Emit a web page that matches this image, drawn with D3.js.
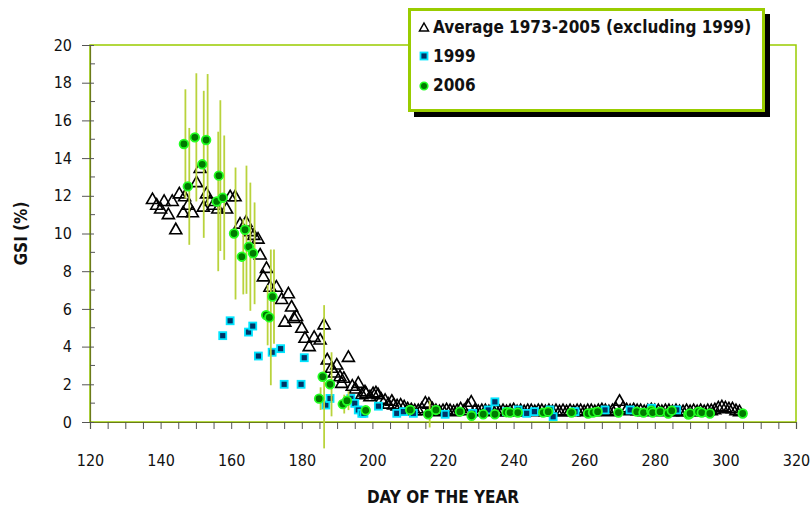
<!DOCTYPE html>
<html>
<head>
<meta charset="utf-8">
<script src="https://cdn.jsdelivr.net/npm/d3@7"></script>
<style>
  html, body { margin: 0; padding: 0; background: #fff; }
  svg { display: block; }
  text { font-family: "Liberation Sans Narrow", "Arial Narrow", "DejaVu Sans Condensed", "Liberation Sans", sans-serif; fill: #111; }
</style>
</head>
<body>
<svg id="chart" width="811" height="513"></svg>
<script>
// Average GSI 1973-2005 (excluding 1999), by day of year
const avgDays = [137.7, 138.9, 140, 141, 142.2, 143.3, 144.3, 145.3, 146.4, 146.8, 147.8, 149, 150.2, 151.2, 152.1, 153, 154, 154.9,
  156.2, 158.7, 159.7, 161.1, 162.5, 164.2, 165.3, 166.4, 167.6, 168.2, 169.1, 170, 171, 172.8, 174.3, 175.2, 176.2, 177.1,
  177.8, 178.5, 180, 180.9, 182.1, 183.5, 185.2, 186.3, 187.2, 188.4, 189.2, 189.9, 190.8, 191.3, 191.9, 193.2, 194.3, 195.2,
  196, 197, 197.9, 198.2, 199.3, 200.2, 201, 201.6, 202.5, 203.6, 204.5, 205.5,
  206, 207, 208, 209, 210, 211, 212, 213, 214, 215, 216, 217, 218, 219, 220, 221, 222, 223, 224, 225, 226, 227, 228, 229,
  230, 231, 232, 233, 234, 235, 236, 237, 238, 239, 240, 241, 242, 243, 244, 245, 246, 247, 248, 249, 250, 251, 252, 253,
  254, 255, 256, 257, 258, 259, 260, 261, 262, 263, 264, 265, 266, 267, 268, 269, 270, 271, 272, 273, 274, 275, 276, 277,
  278, 279, 280, 281, 282, 283, 284, 285, 286, 287, 288, 289, 290, 291, 292, 293, 294, 295, 296, 297, 298, 299, 300, 301,
  302, 303, 304];
const avgGSI = [11.8, 11.5, 11.3, 11.7, 11.0, 11.7, 10.2, 12.1, 11.1, 11.95, 11.5, 11.1, 12.7, 13.45, 11.4, 12.1, 11.7, 11.5,
  11.3, 11.3, 11.95, 11.95, 10.5, 10.6, 10.1, 9.9, 9.7, 8.86, 7.7, 8.15, 7.15, 7.15, 6.5, 5.3, 6.8, 6.1,
  5.5, 5.6, 4.97, 4.44, 4.0, 4.49, 4.35, 5.15, 3.29, 2.85, 2.6, 3.02, 2.4, 2.05, 2.32, 3.43, 1.9, 1.75,
  2.05, 1.45, 1.6, 1.5, 1.34, 1.5, 1.55, 1.45, 1.2, 1.15, 0.95, 1.1,
  0.9, 0.85, 0.9, 0.8, 0.7, 0.65, 0.6, 0.6, 0.7, 1.0, 0.95, 0.7, 0.6, 0.55, 0.6, 0.65, 0.6, 0.55, 0.6, 0.7, 0.6, 0.85, 1.05, 0.6,
  0.55, 0.6, 0.6, 0.55, 0.65, 0.6, 0.55, 0.6, 0.55, 0.6, 0.65, 0.55, 0.6, 0.55, 0.6, 0.6, 0.55, 0.6, 0.6, 0.55, 0.6, 0.55, 0.6, 0.55,
  0.6, 0.55, 0.6, 0.55, 0.6, 0.6, 0.55, 0.6, 0.6, 0.55, 0.6, 0.65, 0.6, 0.55, 0.6, 0.7, 1.1, 0.75, 0.65, 0.6, 0.65, 0.6, 0.6, 0.55,
  0.6, 0.65, 0.6, 0.6, 0.55, 0.6, 0.6, 0.55, 0.6, 0.55, 0.55, 0.6, 0.55, 0.6, 0.55, 0.6, 0.55, 0.6, 0.6, 0.65, 0.75, 0.8, 0.75, 0.7,
  0.7, 0.6, 0.55];

// 1999 GSI
const days1999 = [157.6, 159.7, 164.9, 166.1, 167.7, 171.6, 174, 175, 179.8, 180.7, 186.8, 188, 193.9, 195, 196, 197, 197.6,
  201.7, 206.9, 208.8, 211.6, 220.6, 228.4, 232.8, 234.7, 238, 241.3, 243.7, 245.9, 250.3, 251.2, 257.4, 265.9, 273, 279.1, 286.2];
const gsi1999 = [4.58, 5.37, 4.77, 5.09, 3.5, 3.7, 3.89, 2.0, 2.0, 3.41, 0.9, 1.25, 1.25, 0.99, 0.64, 0.46, 0.46,
  0.84, 0.46, 0.55, 0.46, 0.41, 0.46, 0.64, 1.07, 0.55, 0.64, 0.46, 0.55, 0.64, 0.28, 0.55, 0.64, 0.64, 0.73, 0.64];

// 2006 GSI with error half-widths
const days2006 = [146.6, 147.7, 149.7, 151.8, 152.9, 155.9, 156.5, 157.6, 160.8, 163, 163.9, 165, 166.2, 169.9, 170.8, 171.7,
  184.9, 185.9, 188, 191.6, 192.8, 198.1, 210.7, 215.8, 218, 224.8, 228.1, 231.4, 234.7, 238, 239, 241.2, 248.4, 249.8,
  256.4, 261.1, 262.5, 263.8, 269.7, 274.9, 276.8, 279, 279.4, 281.5, 283.8, 284.8, 289.5, 290, 292.4, 293.3, 295.6, 304.9];
const gsi2006 = [14.75, 12.5, 15.1, 13.67, 14.96, 11.7, 13.07, 11.9, 10.0, 8.77, 10.2, 9.3, 8.95, 5.67, 5.55, 6.65,
  1.24, 2.4, 2.0, 0.95, 1.13, 0.62, 0.64, 0.41, 0.64, 0.55, 0.33, 0.41, 0.41, 0.52, 0.5, 0.5, 0.5, 0.55,
  0.5, 0.45, 0.5, 0.55, 0.5, 0.55, 0.5, 0.6, 0.5, 0.55, 0.45, 0.6, 0.4, 0.45, 0.55, 0.5, 0.45, 0.45];
const err2006 = [2.9, 3.1, 3.4, 3.9, 3.5, 3.7, 4.0, 3.3, 3.5, 2.0, 3.4, 3.4, 2.7, 1.6, 3.6, 2.5,
  0.6, 3.8, 1.7, 0.5, 0.5, 0.2, 0.2, 0.7, 0.2, 0.15, 0.15, 0.15, 0.15, 0.15, 0.15, 0.15, 0.15, 0.15,
  0.15, 0.15, 0.15, 0.15, 0.15, 0.15, 0.15, 0.15, 0.15, 0.15, 0.15, 0.15, 0.15, 0.15, 0.15, 0.15, 0.15, 0.15];

const xTicks = d3.range(120, 321, 5);
const xLabels = d3.range(120, 321, 20);
const yMajor = d3.range(0, 21, 2);
const yMinor = d3.range(1, 20, 2);

const legendLabels = ["Average 1973-2005 (excluding 1999)", "1999", "2006"];

const svg = d3.select("#chart");
const plotL = 90, plotR = 796, plotT = 45, plotB = 422;
const x = d3.scaleLinear().domain([120, 320]).range([plotL, plotR]);
const y = d3.scaleLinear().domain([0, 20]).range([plotB, plotT]);

const frameColor = "#99cc00";
const tickColor = "#555";

// plot frame
svg.append("rect")
  .attr("x", plotL).attr("y", plotT)
  .attr("width", plotR - plotL).attr("height", plotB - plotT)
  .attr("fill", "none").attr("stroke", frameColor).attr("stroke-width", 1.5);

// x axis
const xAxis = d3.axisBottom(x).tickValues(xTicks).tickSize(7).tickPadding(26)
  .tickFormat(d => (xLabels.includes(d) ? d : ""));
const gx = svg.append("g").attr("transform", `translate(0,${plotB})`).call(xAxis);
gx.select(".domain").attr("stroke", "#6b7a1a").attr("stroke-width", 1.2);
gx.selectAll(".tick line").attr("stroke", tickColor);
gx.selectAll(".tick text").attr("font-size", 16).attr("fill", "#111");

// y axis
const yAxis = d3.axisLeft(y).tickValues(yMajor).tickSize(8).tickPadding(10);
const gy = svg.append("g").attr("transform", `translate(${plotL},0)`).call(yAxis);
gy.select(".domain").attr("stroke", "#6b7a1a").attr("stroke-width", 1.2);
gy.selectAll(".tick line").attr("stroke", tickColor).attr("x2", -8).attr("x1", 4);
gy.selectAll(".tick text").attr("font-size", 16).attr("fill", "#111");
gy.selectAll(".minor").data(yMinor).enter().append("line")
  .attr("class", "minor")
  .attr("x1", 0).attr("x2", 5)
  .attr("y1", d => y(d)).attr("y2", d => y(d))
  .attr("stroke", tickColor);

// axis titles
svg.append("text")
  .attr("x", (plotL + plotR) / 2).attr("y", 503)
  .attr("text-anchor", "middle").attr("font-size", 17).attr("font-weight", "bold")
  .text("DAY OF THE YEAR");
svg.append("text")
  .attr("transform", `translate(27,${(plotT + plotB) / 2}) rotate(-90)`)
  .attr("text-anchor", "middle").attr("font-size", 17).attr("font-weight", "bold")
  .text("GSI  (%)");

const triPath = "M0,-6.5L6,4L-6,4Z";

// average series: open triangles
const avgData = avgDays.map((d, i) => ({ d, v: avgGSI[i] }));
svg.append("g").selectAll("path").data(avgData).enter().append("path")
  .attr("d", triPath)
  .attr("transform", p => `translate(${x(p.d)},${y(p.v)})`)
  .attr("fill", "none").attr("stroke", "#000").attr("stroke-width", 1.6);

// 1999 series: squares
const data1999 = days1999.map((d, i) => ({ d, v: gsi1999[i] }));
svg.append("g").selectAll("rect").data(data1999).enter().append("rect")
  .attr("x", p => x(p.d) - 3.5).attr("y", p => y(p.v) - 3.5)
  .attr("width", 7).attr("height", 7)
  .attr("fill", "#003366").attr("stroke", "#00e5ff").attr("stroke-width", 1.8);

// 2006 series: error bars then circles
const data2006 = days2006.map((d, i) => ({ d, v: gsi2006[i], e: err2006[i] }));
svg.append("g").selectAll("line").data(data2006).enter().append("line")
  .attr("x1", p => x(p.d) + 1.5).attr("x2", p => x(p.d) + 1.5)
  .attr("y1", p => y(p.v + p.e)).attr("y2", p => y(p.v - p.e))
  .attr("stroke", "#b9d33c").attr("stroke-width", 1.8);
svg.append("g").selectAll("circle").data(data2006).enter().append("circle")
  .attr("cx", p => x(p.d)).attr("cy", p => y(p.v)).attr("r", 4.3)
  .attr("fill", "#007a00").attr("stroke", "#22ff22").attr("stroke-width", 1.8);

// legend box with drop shadow
const lg = svg.append("g");
lg.append("rect").attr("x", 414).attr("y", 14).attr("width", 356).attr("height", 103).attr("fill", "#000");
lg.append("rect").attr("x", 409.5).attr("y", 9.5).attr("width", 354).attr("height", 101)
  .attr("fill", "#fff").attr("stroke", frameColor).attr("stroke-width", 3);

const rowY = [27, 56, 85];
lg.append("path").attr("d", "M0,-5L4.5,3L-4.5,3Z")
  .attr("transform", `translate(424,${rowY[0] + 1})`)
  .attr("fill", "none").attr("stroke", "#000").attr("stroke-width", 1.5);
lg.append("rect").attr("x", 420.5).attr("y", rowY[1] - 3.5).attr("width", 7).attr("height", 7)
  .attr("fill", "#003366").attr("stroke", "#00e5ff").attr("stroke-width", 1.8);
lg.append("circle").attr("cx", 424).attr("cy", rowY[2] + 1).attr("r", 3.8)
  .attr("fill", "#007a00").attr("stroke", "#22ff22").attr("stroke-width", 1.6);
lg.selectAll("text.lbl").data(legendLabels).enter().append("text")
  .attr("class", "lbl")
  .attr("x", 433).attr("y", (d, i) => rowY[i] + 6)
  .attr("font-size", 17).attr("font-weight", "bold")
  .text(d => d);
</script>
</body>
</html>
